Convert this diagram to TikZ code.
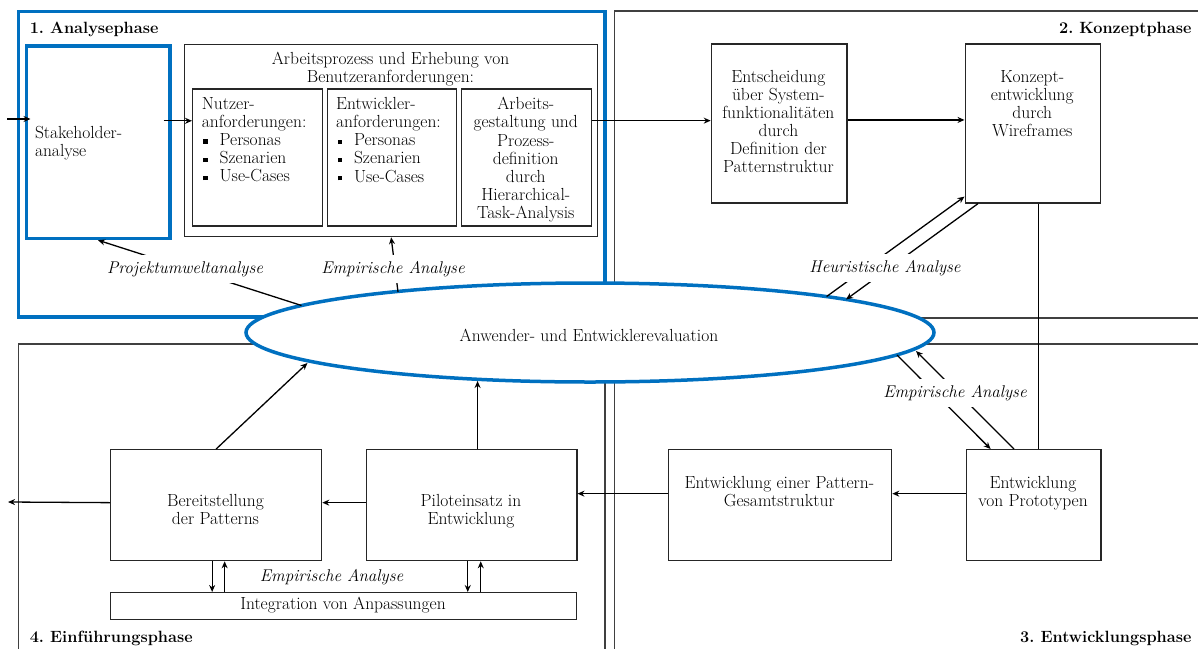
\documentclass[tikz,border=0pt]{standalone}
\usetikzlibrary{arrows.meta,shapes.geometric,calc}
\definecolor{phaseblue}{RGB}{0,112,192}
\newcommand{\sqbullet}{\makebox[17.8pt][l]{\hspace{1.5pt}\rule[1.8pt]{4.4pt}{4.4pt}}}
\begin{document}
\frenchspacing
\begin{tikzpicture}[x=1pt,y=-1pt,
  every node/.style={font=\fontsize{17.5}{18.15}\selectfont, inner sep=0pt},
  box/.style={draw=black!85, line width=1.3pt, fill=white, anchor=north west},
  bluebox/.style={draw=phaseblue, line width=3.5pt, anchor=north west},
  frame/.style={draw=black!75, line width=1.2pt},
  txt/.style={align=center, anchor=north},
  ltxt/.style={align=left, anchor=north west},
  lab/.style={font=\fontsize{17}{18}\selectfont\itshape, fill=white, inner xsep=3pt, inner ysep=6.5pt},
  ttl/.style={font=\fontsize{16.3}{18}\selectfont\bfseries},
  arr/.style={-{Stealth[length=7pt,width=6pt]}, line width=1.3pt},
  con/.style={line width=1.3pt},
]
\useasboundingbox (0,0) rectangle (1198,648);
\clip (0,0) rectangle (1198,648);

% phase frames
\draw[frame] (1210,11) -- (614.5,11) -- (614.5,318) -- (1210,318);
\draw[frame] (1210,344) -- (614.5,344) -- (614.5,660);
\draw[frame] (18.6,660) -- (18.6,344) -- (605,344) -- (605,660);
\draw[draw=phaseblue, line width=3.5pt] (18.5,11.5) rectangle (605,317);

% phase titles
\node[ttl, anchor=base west] (t1) at (29.6,33.2) {1. Analysephase};
\node[ttl, anchor=base east] (t2) at (1191.6,33.2) {2. Konzeptphase};
\node[ttl, anchor=base east] (t3) at (1191.6,642.8) {3. Entwicklungsphase};
\node[ttl, anchor=base west] (t4) at (29.6,642.8) {4. Einführungsphase};

% central evaluation
\node[draw=phaseblue, line width=3.5pt, fill=white, ellipse,
      minimum width=688pt, minimum height=99pt] (eval) at (590,332.5) {};
\node (evalT) at (589,335) {Anwender- und Entwicklerevaluation};
% points on the evaluation rim where the links meet it
\coordinate (eProj)  at ($(eval.center)+(-288.5,-27)$);
\coordinate (eEmpA)  at ($(eval.center)+(-192,-40.5)$);
\coordinate (eHeurA) at ($(eval.center)+(236.6,-36)$);
\coordinate (eHeurB) at ($(eval.center)+(256,-33)$);
\coordinate (eEmpC)  at ($(eval.center)+(307,22.5)$);
\coordinate (eEmpD)  at ($(eval.center)+(326,18.5)$);
\coordinate (eBer)   at ($(eval.center)+(-282.5,30.5)$);
\coordinate (ePil)   at ($(eval.center)+(-113,48.5)$);

% analysis phase
\node[bluebox, minimum width=143.5pt, minimum height=192.7pt] (stake) at (24.5,44) {};
\node[ltxt] (stakeT) at (34.8,125.9) {Stakeholder-\\analyse};
\node[box, minimum width=413pt, minimum height=192.5pt] (big) at (184,43.5) {};
\node[txt] (bigT) at (390.5,52.2) {Arbeitsprozess und Erhebung von\\Benutzeranforderungen:};
\node[box, minimum width=130pt, minimum height=137pt] (nutz) at (192,88.3) {};
\node[box, minimum width=129.5pt, minimum height=137pt] (entw) at (326.5,88.3) {};
\node[box, minimum width=129.5pt, minimum height=137pt] (arb) at (461,88.3) {};
\node[ltxt] (nutzT) at (201.6,97.2) {Nutzer-\\anforderungen:\\\sqbullet Personas\\\sqbullet Szenarien\\\sqbullet Use-Cases};
\node[ltxt] (entwT) at (336,97.2) {Entwickler-\\anforderungen:\\\sqbullet Personas\\\sqbullet Szenarien\\\sqbullet Use-Cases};
\node[txt] (arbT) at (525.75,97.2) {Arbeits-\\gestaltung und\\Prozess-\\definition\\durch\\Hierarchical-\\Task-Analysis};

% concept phase
\node[box, minimum width=135.5pt, minimum height=159pt] (ents) at (710.7,43.3) {};
\node[txt] (entsT) at (778.4,69.9) {Entscheidung\\über System-\\funktionalitäten\\durch\\Definition der\\Patternstruktur};
\node[box, minimum width=135.5pt, minimum height=159pt] (konz) at (964.5,43.3) {};
\node[txt] (konzT) at (1032.25,69.9) {Konzept-\\entwicklung\\durch\\Wireframes};

% development phase
\node[box, minimum width=223.5pt, minimum height=111pt] (patt) at (667.5,449) {};
\node[txt] (pattT) at (779.3,476.2) {Entwicklung einer Pattern-\\Gesamtstruktur};
\node[box, minimum width=134.8pt, minimum height=111pt] (proto) at (965.6,449) {};
\node[txt] (protoT) at (1033,476.2) {Entwicklung\\von Prototypen};

% introduction phase
\node[box, minimum width=211pt, minimum height=111pt] (bereit) at (110,449) {};
\node[txt] (bereitT) at (215.5,493.9) {Bereitstellung\\der Patterns};
\node[box, minimum width=210.6pt, minimum height=111pt] (pilot) at (365.6,449) {};
\node[txt] (pilotT) at (471,493.9) {Piloteinsatz in\\Entwicklung};
\node[box, minimum width=466pt, minimum height=27pt] (integ) at (110,592) {};
\node (integT) at (343,605.5) {Integration von Anpassungen};

% flow connectors
\coordinate (inL) at (7,119);
\draw[arr] (inL) -- ($(inL -| stake.west)+(6,0)$);
\coordinate (s1) at ($(stake.east)+(-8,-21.3)$);
\draw[arr] (s1) -- (s1 -| nutz.west);
\coordinate (a1) at ($(ents.west)+(0,-2.8)$);
\draw[arr] (a1 -| arb.east) -- (a1);
\coordinate (e1) at ($(ents.east)+(0,-3.5)$);
\draw[arr] (e1) -- (e1 -| konz.west);
\coordinate (k1) at ($(konz.south)+(5.8,0)$);
\draw[con] (k1) -- (k1 |- proto.north);
\coordinate (p1) at ($(proto.west)+(0,-11.5)$);
\draw[arr] (p1) -- (p1 -| patt.east);
\coordinate (g1) at ($(patt.west)+(0,-11.5)$);
\draw[arr] (g1) -- (g1 -| pilot.east);
\coordinate (l1) at ($(pilot.west)+(0,-2.5)$);
\draw[arr] (l1) -- (l1 -| bereit.east);
\coordinate (outL) at (8,502);
\draw[arr] ($(bereit.west)+(0,-2.5)$) -- (outL);

% evaluation links
\draw[arr] (eProj) -- (stake.south);
\draw[arr] (eEmpA) -- (big.south);
\draw[arr] (eHeurA) -- ($(konz.south west)+(0,-7)$);
\draw[arr] ($(konz.south west)+(13.5,0)$) -- (eHeurB);
\draw[arr] (eEmpC) -- ($(proto.north west)+(25,0)$);
\draw[arr] ($(proto.north west)+(48.4,0)$) -- (eEmpD);
\draw[arr] (bereit.north) -- (eBer);
\coordinate (q1) at ($(pilot.north)+(6,0)$);
\draw[arr] (q1) -- (q1 |- ePil);

% adjustment loops
\coordinate (b1) at ($(bereit.south)+(-4,0)$);
\coordinate (b2) at ($(bereit.south)+(8.5,0)$);
\draw[arr] (b1) -- (b1 |- integ.north);
\draw[arr] (b2 |- integ.north) -- (b2);
\coordinate (c1) at ($(pilot.south)+(-3.8,0)$);
\coordinate (c2) at ($(pilot.south)+(9.2,0)$);
\draw[arr] (c1) -- (c1 |- integ.north);
\draw[arr] (c2 |- integ.north) -- (c2);

% connector labels
\node[lab] (lProj) at (185,269) {Projektumweltanalyse};
\node[lab] (lEmp1) at (393,269) {Empirische Analyse};
\node[lab] (lHeur) at (885,268) {Heuristische Analyse};
\node[lab] (lEmp2) at (955,393) {Empirische Analyse};
\node[lab] (lEmp3) at (331.6,577) {Empirische Analyse};
\end{tikzpicture}
\end{document}
